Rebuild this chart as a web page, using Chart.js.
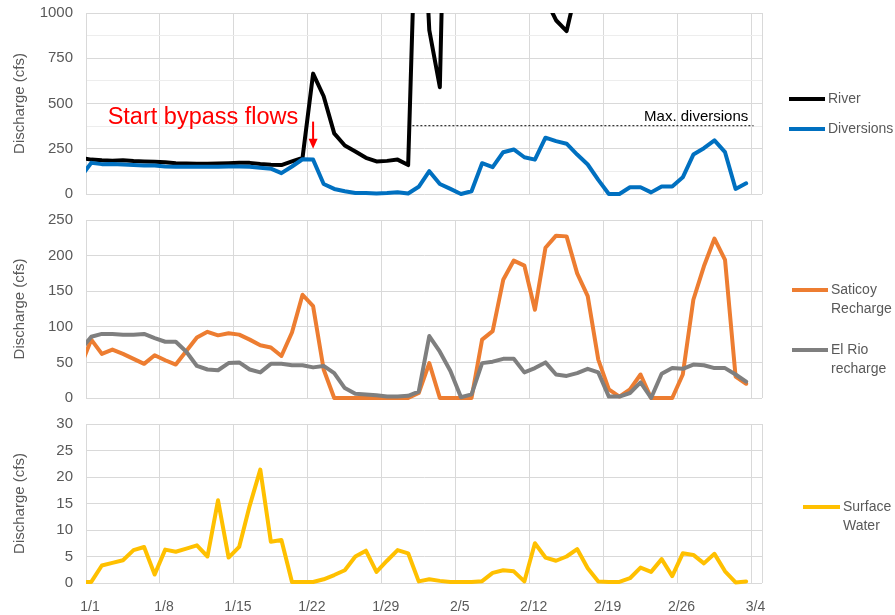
<!DOCTYPE html>
<html><head><meta charset="utf-8">
<script src="https://cdn.jsdelivr.net/npm/chart.js@4.4.1/dist/chart.umd.min.js"></script>
<style>
html,body{margin:0;padding:0;background:#fff;width:895px;height:615px;overflow:hidden;}
canvas{position:absolute;left:0;}
</style></head><body>
<canvas id="c1" width="895" height="205" style="top:0px;width:895px;height:205px"></canvas>
<canvas id="c2" width="895" height="205" style="top:205px;width:895px;height:205px"></canvas>
<canvas id="c3" width="895" height="205" style="top:410px;width:895px;height:205px"></canvas>
<script>
// ---- data ----
const dates = ['12/31',
 '1/1','1/2','1/3','1/4','1/5','1/6','1/7','1/8','1/9','1/10','1/11','1/12','1/13','1/14','1/15','1/16',
 '1/17','1/18','1/19','1/20','1/21','1/22','1/23','1/24','1/25','1/26','1/27','1/28','1/29','1/30','1/31',
 '2/1','2/2','2/3','2/4','2/5','2/6','2/7','2/8','2/9','2/10','2/11','2/12','2/13','2/14','2/15','2/16',
 '2/17','2/18','2/19','2/20','2/21','2/22','2/23','2/24','2/25','2/26','2/27','2/28','2/29',
 '3/1','3/2','3/3'];
const tickLabels = ['1/1','1/8','1/15','1/22','1/29','2/5','2/12','2/19','2/26','3/4'];
const tickDays = [0,7,14,21,28,35,42,49,56,63];

const river = [200,190,186,184,186,182,180,178,175,170,
 168,167,167,168,170,172,172,166,162,160,
 180,200,665,540,335,268,235,200,180,183,
 190,160,2100,905,590,3100,4000,3500,3000,2600,
 2200,1800,1500,1300,1080,960,900,1150,1600,2500,
 3500,3000,2500,2200,2000,1900,1800,1700,1600,1500,
 1400,1400,1300,1300];
const diversions = [95,172,165,166,163,160,158,158,152,150,
 150,150,150,150,152,152,150,145,140,115,
 152,192,190,55,28,15,5,5,3,5,
 10,3,40,126,55,28,0,15,170,148,
 231,246,203,190,311,292,278,218,163,78,
 0,0,37,37,9,42,42,92,218,253,
 296,231,28,59];
const saticoy = [45,82,62,68,62,55,48,60,53,47,
 66,85,93,88,91,89,82,74,71,59,
 92,145,129,40,0,0,0,0,0,0,
 0,0,7,49,0,0,0,0,82,94,
 166,193,186,124,211,228,227,175,143,54,
 12,2,12,33,0,0,0,33,138,185,
 224,194,30,20];
const elRio = [68,86,90,90,89,89,90,84,79,79,
 65,45,40,39,49,50,40,36,48,48,
 46,46,43,45,35,14,6,5,4,2,
 2,3,9,87,65,38,1,5,49,51,
 55,55,36,42,50,33,31,35,41,36,
 2,2,7,22,0,34,42,41,47,46,
 42,42,33,23];
const surfaceWater = [0.2,0.2,3.3,3.8,4.3,6.2,6.8,1.6,6.3,5.9,
 6.5,7.1,5.0,15.6,4.8,6.8,14.6,21.4,7.8,8.1,
 0.2,0.2,0.2,0.7,1.5,2.4,5.0,6.1,2.1,4.2,
 6.2,5.6,0.3,0.7,0.4,0.2,0.2,0.2,0.35,1.9,
 2.4,2.2,0.3,7.5,4.8,4.2,5.0,6.4,2.8,0.3,
 0.2,0.2,0.9,2.9,2.1,4.5,1.3,5.6,5.3,3.7,
 5.5,2.2,0.1,0.3];
const maxDiversion = 380;

// ---- helpers ----
const FONT = "'Liberation Sans', Arial, sans-serif";
Chart.defaults.font.family = FONT;
Chart.defaults.color = '#595959';

// each day occupies one slot; 12/31 sits half a slot left of the axis start
const toPoints = vals => vals.map((v, i) => ({ x: i - 0.5, y: v }));

function xAxis(showLabels) {
  return {
    type: 'linear', min: 0, max: 64,
    afterBuildTicks: s => { s.ticks = tickDays.concat([64]).map(v => ({ value: v })); },
    afterFit: s => { s.height = showLabels ? 32 : 0; s.paddingLeft = 0; s.paddingRight = 0; },
    ticks: {
      display: showLabels, autoSkip: false, maxRotation: 0, minRotation: 0,
      padding: 16, labelOffset: 4, font: { size: 14 }, color: '#595959',
      callback: (v, i) => tickLabels[i] ?? ''
    },
    grid: { color: '#D9D9D9', lineWidth: 1, drawTicks: false },
    border: { display: false }
  };
}
function yAxis(max, step, labelStep) {
  return {
    min: 0, max: max,
    afterFit: s => { s.width = 86; s.paddingTop = 0; s.paddingBottom = 0; },
    ticks: {
      stepSize: step, padding: 13, font: { size: 15 }, color: '#595959',
      callback: v => (Math.abs(v % labelStep) < 1e-9 ? v : '')
    },
    grid: {
      drawTicks: false, lineWidth: 1,
      color: c => (c.tick && Math.abs(c.tick.value % labelStep) > 1e-9) ? '#EDEDED' : '#D9D9D9'
    },
    border: { display: true, color: '#D9D9D9' },
    title: { display: true, text: 'Discharge (cfs)', font: { size: 15 }, color: '#595959', padding: { top: 11, bottom: 0 } }
  };
}
function line(label, vals, color, order) {
  return {
    label: label, data: toPoints(vals), borderColor: color, backgroundColor: color,
    borderWidth: 4, pointRadius: 0, tension: 0, fill: false, order: order,
    borderJoinStyle: 'round', borderCapStyle: 'round',
    clip: { left: 0, top: 0, right: 0, bottom: 6 }
  };
}

const sideLegend = {
  id: 'sideLegend',
  afterDraw(chart, args, o) {
    const { ctx, chartArea } = chart;
    ctx.save();
    o.items.forEach(it => {
      const ds = chart.data.datasets[it.ds];
      const x0 = chartArea.right + o.lineStart, x1 = x0 + o.lineLen;
      ctx.strokeStyle = ds.borderColor; ctx.lineWidth = 4; ctx.lineCap = 'butt';
      ctx.beginPath(); ctx.moveTo(x0, it.y); ctx.lineTo(x1, it.y); ctx.stroke();
      ctx.fillStyle = '#595959'; ctx.font = '14px ' + FONT;
      ctx.textBaseline = 'middle'; ctx.textAlign = 'left';
      it.lines.forEach((t, k) => ctx.fillText(t, x1 + 3, it.y + k * 19.5));
    });
    ctx.restore();
  }
};

const notes = {
  id: 'notes',
  afterDatasetsDraw(chart) {
    const { ctx } = chart; const xs = chart.scales.x, ys = chart.scales.y;
    ctx.save();
    // Start bypass flows
    ctx.fillStyle = '#FF0000'; ctx.font = '23.5px ' + FONT;
    ctx.textAlign = 'left'; ctx.textBaseline = 'alphabetic';
    ctx.fillText('Start bypass flows', xs.getPixelForValue(2.05), ys.getPixelForValue(385));
    const ax = xs.getPixelForValue(dates.indexOf('1/22') - 0.5);
    const yTop = ys.getPixelForValue(400), yTip = ys.getPixelForValue(250);
    ctx.strokeStyle = '#FF0000'; ctx.lineWidth = 2;
    ctx.beginPath(); ctx.moveTo(ax, yTop); ctx.lineTo(ax, yTip - 8); ctx.stroke();
    ctx.beginPath(); ctx.moveTo(ax - 4.5, yTip - 10); ctx.lineTo(ax + 4.5, yTip - 10); ctx.lineTo(ax, yTip); ctx.closePath(); ctx.fill();
    // Max diversions
    const yl = ys.getPixelForValue(maxDiversion);
    ctx.strokeStyle = '#000'; ctx.lineWidth = 1; ctx.setLineDash([2, 2]);
    ctx.beginPath(); ctx.moveTo(xs.getPixelForValue(30.9), yl + 0.5); ctx.lineTo(xs.getPixelForValue(63.2), yl + 0.5); ctx.stroke();
    ctx.setLineDash([]);
    ctx.fillStyle = '#000'; ctx.font = '15px ' + FONT; ctx.textAlign = 'right';
    ctx.fillText('Max. diversions', xs.getPixelForValue(62.7), ys.getPixelForValue(403));
    ctx.restore();
  }
};

function make(id, datasets, yCfg, showX, pad, legendOpts, extra) {
  return new Chart(document.getElementById(id), {
    type: 'line',
    data: { datasets: datasets },
    options: {
      responsive: false, animation: false, events: [],
      layout: { padding: pad, autoPadding: false },
      scales: { x: xAxis(showX), y: yCfg },
      plugins: { legend: { display: false }, tooltip: { enabled: false }, sideLegend: legendOpts }
    },
    plugins: [sideLegend].concat(extra || [])
  });
}

make('c1',
  [line('River', river, '#000000', 1), line('Diversions', diversions, '#0070C0', 0)],
  yAxis(1000, 125, 250), false,
  { left: 0, right: 133, top: 13, bottom: 11 },
  { lineStart: 27, lineLen: 36, items: [{ ds: 0, y: 99, lines: ['River'] }, { ds: 1, y: 129, lines: ['Diversions'] }] },
  [notes]);

make('c2',
  [line('Saticoy Recharge', saticoy, '#ED7D31', 1), line('El Rio recharge', elRio, '#7F7F7F', 0)],
  yAxis(250, 50, 50), false,
  { left: 0, right: 133, top: 15, bottom: 12 },
  { lineStart: 30, lineLen: 36, items: [{ ds: 0, y: 85, lines: ['Saticoy', 'Recharge'] }, { ds: 1, y: 145, lines: ['El Rio', 'recharge'] }] });

make('c3',
  [line('Surface Water', surfaceWater, '#FFC000', 0)],
  yAxis(30, 5, 5), true,
  { left: 0, right: 133, top: 14, bottom: 0 },
  { lineStart: 41, lineLen: 37, items: [{ ds: 0, y: 97, lines: ['Surface', 'Water'] }] });
</script>
</body></html>
